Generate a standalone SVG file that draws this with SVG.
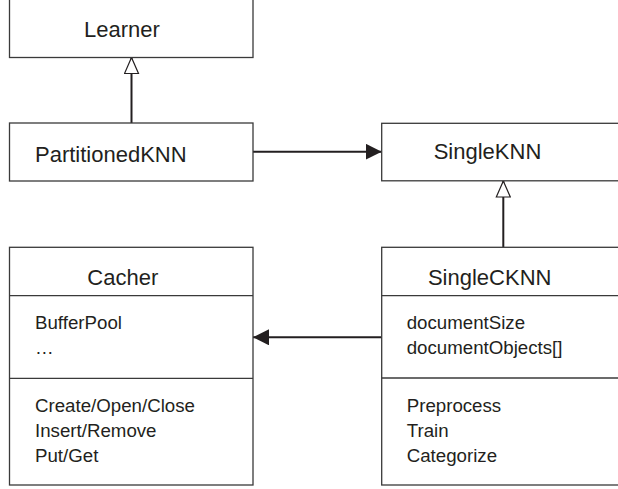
<svg xmlns="http://www.w3.org/2000/svg" width="618" height="489" viewBox="0 0 618 489">
<defs>
<style>
.box{fill:#fff;stroke:#3a3a3a;stroke-width:1.3}
.sep{stroke:#3a3a3a;stroke-width:1.3}
.conn{stroke:#231f20;stroke-width:2;fill:none}
.hd{font-family:"Liberation Sans",Arial,sans-serif;font-size:22px;fill:#231f20}
.mb{font-family:"Liberation Sans",Arial,sans-serif;font-size:18.7px;fill:#231f20}
</style>
<marker id="inh" markerWidth="18" markerHeight="16" refX="17" refY="8" orient="auto" markerUnits="userSpaceOnUse" viewBox="0 0 18 16">
<path d="M1,1 L17,8 L1,15 Z" fill="#fff" stroke="#231f20" stroke-width="1.2"/>
</marker>
<marker id="arr" markerWidth="18" markerHeight="16" refX="16" refY="8" orient="auto" markerUnits="userSpaceOnUse" viewBox="0 0 18 16">
<path d="M0,0 L16,8 L0,16 Z" fill="#231f20"/>
</marker>
</defs>
<g id="connectors">
<line class="conn" x1="131.5" y1="123" x2="131.5" y2="57.5" marker-end="url(#inh)"/>
<line class="conn" x1="253" y1="151.7" x2="381.7" y2="151.7" marker-end="url(#arr)"/>
<line class="conn" x1="503.3" y1="247" x2="503.3" y2="181" marker-end="url(#inh)"/>
<line class="conn" x1="381.7" y1="337.3" x2="253" y2="337.3" marker-end="url(#arr)"/>
</g>
<g id="learner">
<rect class="box" x="9.5" y="-5" width="243.5" height="62.5"/>
<text class="hd" x="122" y="37" text-anchor="middle">Learner</text>
</g>
<g id="partitionedknn">
<rect class="box" x="9.5" y="123" width="243.5" height="58"/>
<text class="hd" x="35" y="162">PartitionedKNN</text>
</g>
<g id="singleknn">
<rect class="box" x="381.7" y="123.3" width="250" height="57.5"/>
<text class="hd" x="487.5" y="159" text-anchor="middle">SingleKNN</text>
</g>
<g id="cacher">
<rect class="box" x="9.5" y="247.3" width="243.5" height="237.7"/>
<line class="sep" x1="9.5" y1="295.7" x2="253" y2="295.7"/>
<line class="sep" x1="9.5" y1="378.3" x2="253" y2="378.3"/>
<text class="hd" x="122.8" y="285" text-anchor="middle">Cacher</text>
<text class="mb" x="35" y="329">BufferPool</text>
<text class="mb" x="35" y="354">…</text>
<text class="mb" x="35" y="411.7">Create/Open/Close</text>
<text class="mb" x="35" y="437">Insert/Remove</text>
<text class="mb" x="35" y="462.3">Put/Get</text>
</g>
<g id="singlecknn">
<rect class="box" x="381.7" y="247.3" width="250" height="237.7"/>
<line class="sep" x1="381.7" y1="295.7" x2="632" y2="295.7"/>
<line class="sep" x1="381.7" y1="378" x2="632" y2="378"/>
<text class="hd" x="489.7" y="285" text-anchor="middle">SingleCKNN</text>
<text class="mb" x="406.7" y="329">documentSize</text>
<text class="mb" x="406.7" y="354.3">documentObjects[]</text>
<text class="mb" x="406.7" y="411.7">Preprocess</text>
<text class="mb" x="406.7" y="437.3">Train</text>
<text class="mb" x="406.7" y="462.3">Categorize</text>
</g>
</svg>
